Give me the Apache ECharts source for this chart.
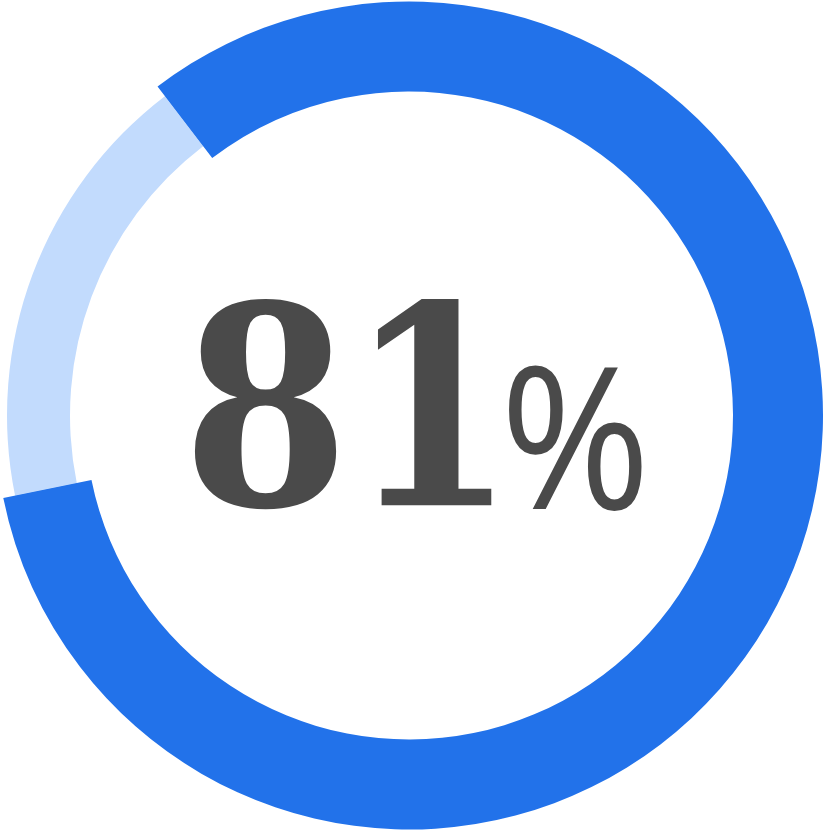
<!DOCTYPE html>
<html>
<head>
<meta charset="utf-8">
<title>81%</title>
<script src="https://cdn.jsdelivr.net/npm/echarts@6.0.0/dist/echarts.min.js"></script>
<style>
  html, body { margin: 0; padding: 0; background: #ffffff; }
  #chart { width: 823px; height: 831px; }
</style>
</head>
<body>
<div id="chart"></div>
<script>
// 数据：完成部分 / 剩余部分（按图中圆弧读出）
const sliceNames = ['done', 'rest'];
const sliceValues = [82.2, 17.8];
// 中间的文字
const centerNumber = '81';
const centerUnit = '%';

const darkBlue = '#2272ea';
const lightBlue = '#c2dbfd';
const textGrey = '#4a4a4a';

const chart = echarts.init(document.getElementById('chart'));

const sliceData = sliceNames.map(function (name, i) {
    return { name: name, value: sliceValues[i] };
});

const option = {
    animation: false,
    series: [
        {
            // 浅色底环（整圈）
            name: 'track',
            type: 'pie',
            center: [409, 415.5],
            radius: [339, 402],
            startAngle: 127.4,
            silent: true,
            label: { show: false },
            labelLine: { show: false },
            itemStyle: { color: lightBlue, borderWidth: 0 },
            data: sliceData
        },
        {
            // 深色进度环
            name: 'progress',
            type: 'pie',
            center: [409, 415.5],
            radius: [324, 414],
            startAngle: 127.4,
            silent: true,
            label: { show: false },
            labelLine: { show: false },
            data: sliceData.map(function (d, i) {
                return {
                    name: d.name,
                    value: d.value,
                    itemStyle: { color: i === 0 ? darkBlue : 'rgba(0,0,0,0)', borderWidth: 0 }
                };
            })
        }
    ],
    graphic: [
        {
            type: 'text',
            x: 515,
            y: 433,
            scaleX: 0.955,
            style: {
                text: centerNumber,
                x: 0,
                y: 0,
                align: 'right',
                verticalAlign: 'middle',
                fill: textGrey,
                font: 'bold 278px "DejaVu Serif Condensed", "DejaVu Serif"'
            }
        },
        {
            type: 'text',
            x: 500,
            y: 453,
            scaleX: 0.92,
            style: {
                text: centerUnit,
                x: 0,
                y: 0,
                align: 'left',
                verticalAlign: 'middle',
                fill: textGrey,
                font: '400 198px "Open Sans"'
            }
        }
    ]
};

chart.setOption(option);
</script>
</body>
</html>
